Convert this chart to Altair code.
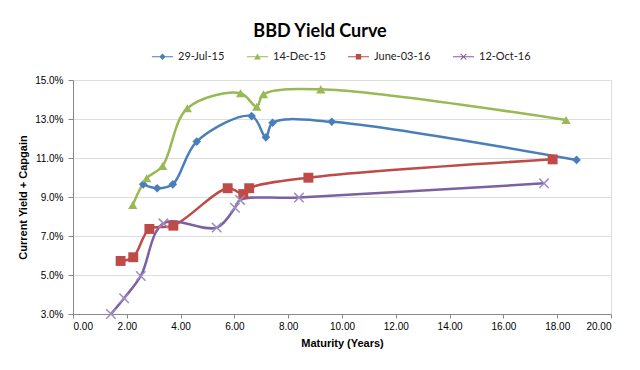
import altair as alt
import pandas as pd

series = ["29-Jul-15", "14-Dec-15", "June-03-16", "12-Oct-16"]

blue_x = [2.61, 3.13, 3.71, 4.60, 6.64, 7.17, 7.42, 9.62, 18.72]
blue_y = [9.65, 9.45, 9.65, 11.84, 13.15, 12.06, 12.81, 12.86, 10.90]
green_x = [2.22, 2.74, 3.33, 4.25, 6.23, 6.83, 7.08, 9.21, 18.33]
green_y = [8.59, 9.96, 10.59, 13.55, 14.32, 13.63, 14.27, 14.52, 12.95]
red_x = [1.77, 2.24, 2.84, 3.73, 5.75, 6.33, 6.55, 8.75, 17.83]
red_y = [5.72, 5.91, 7.36, 7.53, 9.45, 9.15, 9.45, 9.99, 10.93]
purple_x = [1.41, 1.90, 2.52, 3.36, 5.34, 6.02, 6.21, 8.40, 17.51]
purple_y = [3.00, 3.81, 4.95, 7.65, 7.43, 8.45, 8.85, 8.97, 9.70]

x_ticks = [0, 2, 4, 6, 8, 10, 12, 14, 16, 18, 20]
y_ticks = [3, 5, 7, 9, 11, 13, 15]

line_colors = ["#4A7EBB", "#98B954", "#BE4B48", "#7D60A0"]
marker_colors = ["#4A7EBB", "#98B954", "#BE4B48", "#9F8BC4"]

rows = []
for name, xs, ys in zip(series, [blue_x, green_x, red_x, purple_x],
                        [blue_y, green_y, red_y, purple_y]):
    for x, y in zip(xs, ys):
        rows.append({"series": name, "maturity": x, "yield": y})
df = pd.DataFrame(rows)
df["legend_series"] = df["series"]

X_PATH = "M-1,-0.8L-0.8,-1L1,0.8L0.8,1Z M0.8,-1L1,-0.8L-0.8,1L-1,0.8Z"
marker_shapes = ["diamond", "triangle-up", "square", X_PATH]

BAR = "M-3,-0.17H3V0.17H-3Z "
legend_shapes = [
    BAR + "M0,-0.9L0.9,0L0,0.9L-0.9,0Z",
    BAR + "M0,-0.95L0.95,0.75L-0.95,0.75Z",
    BAR + "M-0.75,-0.75H0.75V0.75H-0.75Z",
    BAR + "M-0.9,-0.72L-0.72,-0.9L0.9,0.72L0.72,0.9Z M0.72,-0.9L0.9,-0.72L-0.72,0.9L-0.9,0.72Z",
]

FONT = "Lato"

x_enc = alt.X("maturity:Q",
              scale=alt.Scale(domain=[0, 20], nice=False, zero=False),
              axis=alt.Axis(values=x_ticks, format=".2f", title="Maturity (Years)",
                            grid=False, tickSize=4, labelPadding=3,
                            titlePadding=6))
y_enc = alt.Y("yield:Q",
              scale=alt.Scale(domain=[3, 15], nice=False, zero=False),
              axis=alt.Axis(values=y_ticks, labelExpr="format(datum.value, '.1f') + '%'",
                            title="Current Yield + Capgain", grid=True, labelOverlap=False,
                            tickSize=5, labelPadding=5, titlePadding=6))

lines = alt.Chart(df).mark_line(strokeWidth=2.5, interpolate="catmull-rom").encode(
    x=x_enc, y=y_enc,
    color=alt.Color("series:N", scale=alt.Scale(domain=series, range=line_colors), legend=None),
    order=alt.Order("maturity:Q"),
)

points = alt.Chart(df).mark_point(filled=True, opacity=1, strokeWidth=0).encode(
    x=x_enc, y=y_enc,
    color=alt.Color("series:N", scale=alt.Scale(domain=series, range=marker_colors), legend=None),
    shape=alt.Shape("series:N", scale=alt.Scale(domain=series, range=marker_shapes), legend=None),
    size=alt.Size("series:N", scale=alt.Scale(domain=series, range=[75, 110, 85, 110]), legend=None),
)

legend_layer = alt.Chart(df).transform_filter("datum.maturity < 0").mark_point(
    filled=True, opacity=1, strokeWidth=0).encode(
    x=x_enc, y=y_enc,
    color=alt.Color("legend_series:N", scale=alt.Scale(domain=series, range=line_colors),
                    legend=alt.Legend(title=None, orient="none", direction="horizontal",
                                      legendX=84, legendY=-29, symbolSize=50,
                                      labelOffset=10, columnPadding=21, padding=0,
                                      labelFont=FONT, labelFontSize=11, labelColor="#222222",
                                      symbolStrokeWidth=0)),
    shape=alt.Shape("legend_series:N", scale=alt.Scale(domain=series, range=legend_shapes)),
)

chart = alt.layer(lines, points, legend_layer).resolve_scale(
    color="independent", shape="independent"
).properties(
    width=538, height=234,
    autosize=alt.AutoSizeParams(type="none"),
    padding={"left": 65, "top": 72, "right": 19, "bottom": 46},
    title=alt.TitleParams("BBD Yield Curve", font=FONT, fontSize=18, fontWeight="bold",
                          color="#000000", anchor="middle", dx=-22, offset=10, frame="group"),
).configure_view(stroke=None).configure_axis(
    labelFont=FONT, titleFont=FONT, labelFontSize=11, titleFontSize=11,
    labelColor="#222222", titleColor="#000000", titleFontWeight="bold",
    domainColor="#8E8E8E", tickColor="#8E8E8E", gridColor="#8E8E8E",
    domainWidth=1, gridWidth=1,
).configure(background="white")

chart.save("out.html", embed_options={"renderer": "svg", "actions": False})
